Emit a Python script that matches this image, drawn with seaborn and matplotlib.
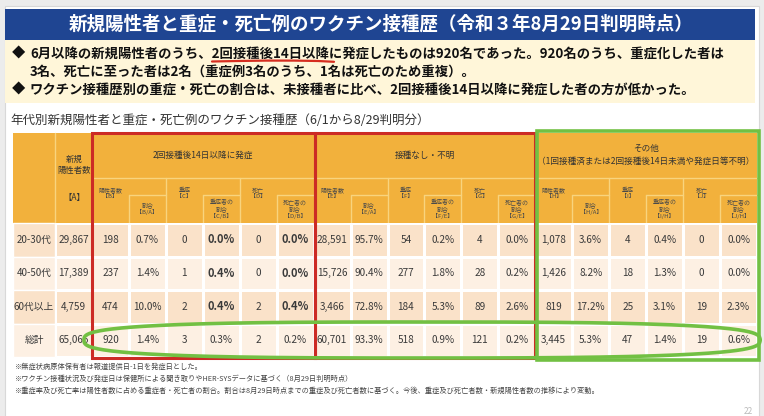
import numpy as np
import pandas as pd
import matplotlib
matplotlib.use("Agg")
import matplotlib.pyplot as plt
from matplotlib.patches import Rectangle
from matplotlib.colors import ListedColormap
import seaborn as sns

sns.set_theme(style="white")
plt.rcParams['font.family'] = ['Noto Sans CJK JP', 'DejaVu Sans']

# ---------------- data ----------------
title = "新規陽性者と重症・死亡例のワクチン接種歴（令和３年8月29日判明時点）"
bullets = [
    ("◆", "6月以降の新規陽性者のうち、2回接種後14日以降に発症したものは920名であった。920名のうち、重症化した者は"),
    ("", "3名、死亡に至った者は2名（重症例3名のうち、1名は死亡のため重複）。"),
    ("◆", "ワクチン接種歴別の重症・死亡の割合は、未接種者に比べ、2回接種後14日以降に発症した者の方が低かった。"),
]
subtitle = "年代別新規陽性者と重症・死亡例のワクチン接種歴（6/1から8/29判明分）"
footnotes = [
    "※無症状病原体保有者は報道提供日-1日を発症日とした。",
    "※ワクチン接種状況及び発症日は保健所による聞き取りやHER-SYSデータに基づく（8月29日判明時点）",
    "※重症率及び死亡率は陽性者数に占める重症者・死亡者の割合。割合は8月29日時点までの重症及び死亡者数に基づく。今後、重症及び死亡者数・新規陽性者数の推移により変動。",
]

age_groups = ["20-30代", "40-50代", "60代以上", "総計"]
new_pos_A = [29867, 17389, 4759, 65066]

grp1_B = [198, 237, 474, 920]
grp1_BA = [0.7, 1.4, 10.0, 1.4]
grp1_C = [0, 1, 2, 3]
grp1_CB = [0.0, 0.4, 0.4, 0.3]
grp1_D = [0, 0, 2, 2]
grp1_DB = [0.0, 0.0, 0.4, 0.2]

grp2_E = [28591, 15726, 3466, 60701]
grp2_EA = [95.7, 90.4, 72.8, 93.3]
grp2_F = [54, 277, 184, 518]
grp2_FE = [0.2, 1.8, 5.3, 0.9]
grp2_G = [4, 28, 89, 121]
grp2_GE = [0.0, 0.2, 2.6, 0.2]

grp3_H = [1078, 1426, 819, 3445]
grp3_HA = [3.6, 8.2, 17.2, 5.3]
grp3_I = [4, 18, 25, 47]
grp3_IH = [0.4, 1.3, 3.1, 1.4]
grp3_J = [0, 0, 19, 19]
grp3_JH = [0.0, 0.0, 2.3, 0.6]

group_titles = ["2回接種後14日以降に発症", "接種なし・不明",
                "その他\n（1回接種済または2回接種後14日未満や発症日等不明）"]
sub_headers = [
    "陽性者数\n【B】", "割合\n【B/A】", "重症\n【C】", "重症者の\n割合\n【C/B】", "死亡\n【D】", "死亡者の\n割合\n【D/B】",
    "陽性者数\n【E】", "割合\n【E/A】", "重症\n【F】", "重症者の\n割合\n【F/E】", "死亡\n【G】", "死亡者の\n割合\n【G/E】",
    "陽性者数\n【H】", "割合\n【H/A】", "重症\n【I】", "重症者の\n割合\n【I/H】", "死亡\n【J】", "死亡者の\n割合\n【J/H】",
]

# ---------------- table content ----------------
fmt_n = lambda v: f"{v:,}"
fmt_p = lambda v: f"{v:.1f}%"
cols = [(new_pos_A, fmt_n),
        (grp1_B, fmt_n), (grp1_BA, fmt_p), (grp1_C, fmt_n), (grp1_CB, fmt_p), (grp1_D, fmt_n), (grp1_DB, fmt_p),
        (grp2_E, fmt_n), (grp2_EA, fmt_p), (grp2_F, fmt_n), (grp2_FE, fmt_p), (grp2_G, fmt_n), (grp2_GE, fmt_p),
        (grp3_H, fmt_n), (grp3_HA, fmt_p), (grp3_I, fmt_n), (grp3_IH, fmt_p), (grp3_J, fmt_n), (grp3_JH, fmt_p)]
col_names = ["A", "B", "B/A", "C", "C/B", "D", "D/B", "E", "E/A", "F", "F/E", "G", "G/E",
             "H", "H/A", "I", "I/H", "J", "J/H"]
annot = pd.DataFrame({n: [f(v) for v in vals] for n, (vals, f) in zip(col_names, cols)},
                     index=age_groups)
band = pd.DataFrame(np.tile(np.array([0, 1, 0, 1])[:, None], (1, len(col_names))),
                    index=age_groups, columns=col_names)

PEACH = "#FAE2C9"
LIGHT = "#FDF0E3"
ORANGE = "#F2B13C"
HLINE = "#F8D47E"
TXT = "#3A3A3A"

W, H = 764, 416
fig = plt.figure(figsize=(W / 100, H / 100), dpi=100)
fig.patch.set_facecolor("#ECECEC")

ax0 = fig.add_axes([0, 0, 1, 1])
ax0.set_xlim(0, W)
ax0.set_ylim(H, 0)
ax0.axis("off")

# slide
ax0.add_patch(Rectangle((5, 6), 754, 420, facecolor="white", edgecolor="#D8D8D8", lw=0.8))
# title bar
ax0.add_patch(Rectangle((5, 9), 750, 31, facecolor="#1F4592", edgecolor="none"))
ax0.text(381, 24.5, title, color="white", fontsize=13.3, fontweight="bold", ha="center", va="center")
# bullet box
ax0.add_patch(Rectangle((5, 40), 750, 63, facecolor="#FFF6D9", edgecolor="none"))
by = [54, 72, 90]
for (mark, txt), y in zip(bullets, by):
    if mark:
        ax0.text(12, y, mark, fontsize=9.6, fontweight="bold", ha="left", va="center", color="#111111")
    ax0.text(30, y, txt, fontsize=9.6, fontweight="bold", ha="left", va="center", color="#111111")
# red hand underline
ux = np.array([212, 238, 266, 294, 318, 334])
uy = np.array([61.5, 61.0, 60.6, 60.6, 61.0, 61.8])
ax0.plot(ux, uy, color="#D62D20", lw=1.6, solid_capstyle="round")

ax0.text(10, 121, subtitle, fontsize=9, ha="left", va="center", color="#333333")

# header area
T0, T1, T2, TB = 133, 178, 223, 357
XL, XA, XB = 13, 55, 93
XR = 757
cw = (XR - XA) / 19.0
ax0.add_patch(Rectangle((XL, T0), XR - XL, T2 - T0, facecolor=ORANGE, edgecolor="none"))
# header lines
ax0.plot([XA, XA], [T0, T2], color=HLINE, lw=1)
ax0.plot([XA + cw, XR], [T1, T1], color=HLINE, lw=1)
for g in range(3):
    x0 = XA + cw * (1 + 6 * g)
    for p in range(3):
        px = x0 + 2 * cw * p
        if p > 0:
            ax0.plot([px, px], [T1, T2], color=HLINE, lw=1)
        ax0.plot([px + cw, px + cw], [195, T2], color=HLINE, lw=1)
        ax0.plot([px + cw, px + 2 * cw], [195, 195], color=HLINE, lw=1)
    ax0.text(x0 + 3 * cw, 155, group_titles[g], fontsize=6.2,
             ha="center", va="center", color="#333333", linespacing=1.5)
ax0.text((XA + XB) / 2, 165, "新規\n陽性者数", fontsize=6, ha="center", va="center",
         color="#333333", linespacing=1.2)
ax0.text((XA + XB) / 2, 197, "【A】", fontsize=6, ha="center", va="center", color="#333333")
for k, s in enumerate(sub_headers):
    cx = XA + cw * (1.5 + k)
    cy = 193 if k % 2 == 0 else 209
    ax0.text(cx, cy, s, fontsize=4.3, ha="center", va="center", color="#4a4a4a", linespacing=1.15)

# row label column
rh = (TB - T2) / 4.0
for i, lab in enumerate(age_groups):
    ax0.add_patch(Rectangle((XL, T2 + i * rh), XA - XL, rh,
                            facecolor=PEACH if i % 2 == 0 else LIGHT, edgecolor="white", lw=1))
    ax0.text((XL + XA) / 2, T2 + (i + 0.5) * rh, lab, fontsize=7, ha="center", va="center", color=TXT)

# body as heatmap
hx = fig.add_axes([XA / W, 1 - TB / H, (XR - XA) / W, (TB - T2) / H])
sns.heatmap(band, annot=annot, fmt="", cmap=ListedColormap([PEACH, LIGHT]), vmin=0, vmax=1,
            cbar=False, linewidths=1, linecolor="white", ax=hx,
            annot_kws={"fontsize": 7.2, "color": TXT})
hx.set_xticks([])
hx.set_yticks([])
hx.set_xlabel("")
hx.set_ylabel("")
ncol = len(col_names)
bold_cols = [col_names.index("C/B"), col_names.index("D/B")]
for idx, t in enumerate(hx.texts):
    i, j = divmod(idx, ncol)
    if j in bold_cols and i < 3:
        t.set_fontweight("bold")
        t.set_fontsize(8)

# footnotes
for k, s in enumerate(footnotes):
    ax0.text(15, 367 + 12 * k, s, fontsize=5.2, ha="left", va="center", color="#444444")
ax0.text(748, 411, "22", fontsize=6, ha="center", va="center", color="#BBBBBB")

# overlay annotations
ov = fig.add_axes([0, 0, 1, 1], zorder=5)
ov.set_xlim(0, W)
ov.set_ylim(H, 0)
ov.axis("off")
ov.patch.set_alpha(0)
RED = "#CC2B25"
GREEN = "#72C043"
ov.add_patch(Rectangle((XB - 1, T0), 315 - XB + 1, TB - T0 + 1, fill=False, edgecolor=RED, lw=2.2))
ov.add_patch(Rectangle((315, T0), 535 - 315, TB - T0 + 1, fill=False, edgecolor=RED, lw=2.2))
ov.add_patch(Rectangle((537, 131), 222, 229, fill=False, edgecolor=GREEN, lw=2.6))
t = np.linspace(0, 2 * np.pi, 400)
n = 3.0
a, b, cx0, cy0 = 338, 18, 422, 340
ex = cx0 + a * np.sign(np.cos(t)) * np.abs(np.cos(t)) ** (2 / n)
ey = cy0 + b * np.sign(np.sin(t)) * np.abs(np.sin(t)) ** (2 / n)
ov.plot(ex, ey, color=GREEN, lw=2.6)

fig.savefig("out.png", dpi=100, facecolor=fig.get_facecolor())
